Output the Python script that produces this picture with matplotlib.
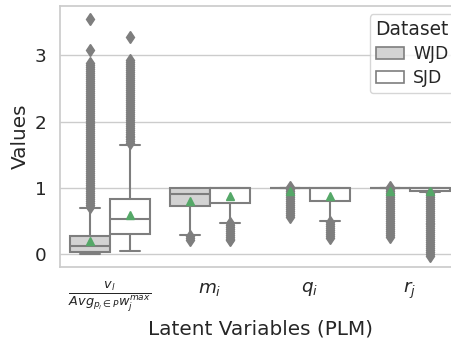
import matplotlib
matplotlib.use("Agg")
import matplotlib.pyplot as plt
from matplotlib.patches import Patch
import seaborn as sns

sns.set_theme(style="whitegrid", font_scale=1.2)

# latent variables on the x axis
tick_labels = [r"$\frac{v_l}{Avg_{p_l \in P}w_j^{max}}$", r"$m_i$", r"$q_i$", r"$r_j$"]
datasets = ["WJD", "SJD"]
box_colors = ["#d3d3d3", "#ffffff"]

# box statistics, one list per dataset (v, m, q, r)
wjd_q1 = [0.03, 0.73, 1.00, 1.00]
wjd_med = [0.12, 0.91, 1.00, 1.00]
wjd_q3 = [0.28, 1.00, 1.00, 1.00]
wjd_whislo = [0.00, 0.29, 1.00, 1.00]
wjd_whishi = [0.70, 1.00, 1.00, 1.00]
wjd_mean = [0.20, 0.81, 0.95, 0.95]

sjd_q1 = [0.30, 0.78, 0.81, 0.96]
sjd_med = [0.53, 1.00, 1.00, 1.00]
sjd_q3 = [0.83, 1.00, 1.00, 1.00]
sjd_whislo = [0.05, 0.48, 0.51, 0.94]
sjd_whishi = [1.64, 1.00, 1.00, 1.00]
sjd_mean = [0.59, 0.88, 0.88, 0.95]

# outliers (dense columns in the picture)
wjd_fliers_v = [0.72, 0.75, 0.78, 0.81, 0.84, 0.87, 0.90, 0.93, 0.96, 0.99, 1.02, 1.05,
                1.08, 1.11, 1.14, 1.17, 1.20, 1.23, 1.26, 1.29, 1.32, 1.35, 1.38, 1.41,
                1.44, 1.47, 1.50, 1.53, 1.56, 1.59, 1.62, 1.65, 1.68, 1.71, 1.74, 1.77,
                1.80, 1.83, 1.86, 1.89, 1.92, 1.95, 1.98, 2.01, 2.04, 2.07, 2.10, 2.13,
                2.16, 2.19, 2.22, 2.25, 2.28, 2.31, 2.34, 2.37, 2.40, 2.43, 2.46, 2.49,
                2.52, 2.55, 2.58, 2.61, 2.64, 2.67, 2.70, 2.73, 2.76, 2.79, 2.82, 2.85,
                2.88, 3.08, 3.54]
wjd_fliers_m = [0.27, 0.24, 0.21]
wjd_fliers_q = [1.01, 0.98, 0.95, 0.92, 0.89, 0.86, 0.83, 0.80, 0.77, 0.74, 0.71, 0.68,
                0.65, 0.62, 0.59, 0.56]
wjd_fliers_r = [1.01, 0.98, 0.95, 0.92, 0.89, 0.86, 0.83, 0.80, 0.77, 0.74, 0.71, 0.68,
                0.65, 0.62, 0.59, 0.56, 0.53, 0.50, 0.47, 0.44, 0.41, 0.38, 0.35, 0.32,
                0.29, 0.26]
sjd_fliers_v = [1.67, 1.70, 1.73, 1.76, 1.79, 1.82, 1.85, 1.88, 1.91, 1.94, 1.97, 2.00,
                2.03, 2.06, 2.09, 2.12, 2.15, 2.18, 2.21, 2.24, 2.27, 2.30, 2.33, 2.36,
                2.39, 2.42, 2.45, 2.48, 2.51, 2.54, 2.57, 2.60, 2.63, 2.66, 2.69, 2.72,
                2.75, 2.78, 2.81, 2.84, 2.87, 2.90, 2.93, 3.27]
sjd_fliers_m = [0.47, 0.44, 0.41, 0.38, 0.35, 0.32, 0.29, 0.26, 0.23, 0.21]
sjd_fliers_q = [0.49, 0.46, 0.43, 0.40, 0.37, 0.34, 0.31, 0.28, 0.25]
sjd_fliers_r = [0.93, 0.90, 0.87, 0.84, 0.81, 0.78, 0.75, 0.72, 0.69, 0.66, 0.63, 0.60,
                0.57, 0.54, 0.51, 0.48, 0.45, 0.42, 0.39, 0.36, 0.33, 0.30, 0.27, 0.24,
                0.21, 0.18, 0.15, 0.12, 0.09, 0.06, 0.03, 0.00, -0.03]

wjd_fliers = [wjd_fliers_v, wjd_fliers_m, wjd_fliers_q, wjd_fliers_r]
sjd_fliers = [sjd_fliers_v, sjd_fliers_m, sjd_fliers_q, sjd_fliers_r]


def make_stats(q1, med, q3, lo, hi, mean, fliers):
    out = []
    for i in range(len(q1)):
        out.append(dict(q1=q1[i], med=med[i], q3=q3[i], whislo=lo[i], whishi=hi[i],
                        mean=mean[i], fliers=fliers[i]))
    return out


stats = [make_stats(wjd_q1, wjd_med, wjd_q3, wjd_whislo, wjd_whishi, wjd_mean, wjd_fliers),
         make_stats(sjd_q1, sjd_med, sjd_q3, sjd_whislo, sjd_whishi, sjd_mean, sjd_fliers)]

gray = "#7e7e7e"
green = "#55a868"
lw = 1.5

fig = plt.figure(figsize=(4.52, 3.39), dpi=100)
# axes run past the right edge, as in the cropped reference
ax = fig.add_axes([60 / 452, 72 / 339, 400 / 452, 261 / 339])

offsets = [-0.2, 0.2]
for k in range(2):
    pos = [i + offsets[k] for i in range(len(tick_labels))]
    ax.bxp(stats[k], positions=pos, widths=0.392, patch_artist=True, showmeans=True,
           boxprops=dict(facecolor=box_colors[k], edgecolor=gray, linewidth=lw),
           medianprops=dict(color=gray, linewidth=lw),
           whiskerprops=dict(color=gray, linewidth=lw),
           capprops=dict(color=gray, linewidth=lw),
           flierprops=dict(marker="d", markerfacecolor=gray, markeredgecolor=gray,
                           markersize=6, linestyle="none"),
           meanprops=dict(marker="^", markerfacecolor=green, markeredgecolor=green,
                          markersize=6),
           manage_ticks=False)

ax.set_xlim(-0.5, 3.5)
ax.set_ylim(-0.19, 3.74)
ax.set_xticks(range(len(tick_labels)))
ax.set_xticklabels(tick_labels)
ax.set_yticks([0, 1, 2, 3])
ax.xaxis.grid(False)
ax.set_axisbelow(True)
ax.set_xlabel("Latent Variables (PLM)")
ax.set_ylabel("Values")

handles = [Patch(facecolor=box_colors[k], edgecolor=gray, linewidth=1.2, label=datasets[k])
           for k in range(2)]
ax.legend(handles=handles, title="Dataset", loc="upper right",
          bbox_to_anchor=(0.9875, 0.969), borderaxespad=0,
          fontsize=12.4, title_fontsize=13.4, handlelength=1.6,
          handletextpad=0.55, labelspacing=0.35, borderpad=0.35)

fig.savefig("out.png", dpi=100)
